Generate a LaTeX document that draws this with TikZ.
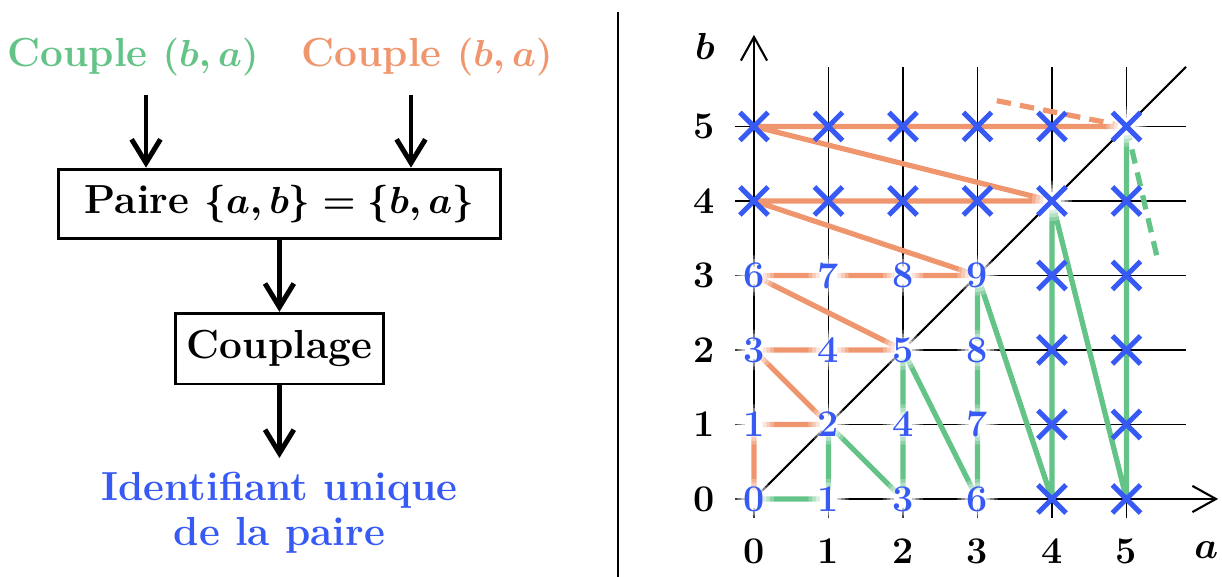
\documentclass[tikz,border=0pt]{standalone}
\usepackage{bm}
\usetikzlibrary{arrows.meta,shapes.misc}
\definecolor{cgreen}{RGB}{100,195,135}
\definecolor{corange}{RGB}{240,150,110}
\definecolor{cblue}{RGB}{55,90,245}
\newcommand\flowfont{\fontsize{15.5}{19}\selectfont\bfseries\boldmath}
\newcommand\axisfont{\fontsize{15.5}{18}\selectfont}
\pgfdeclarelayer{bg}
\pgfdeclarelayer{halo}
\pgfsetlayers{bg,halo,main}
\tikzset{
  flowbox/.style={draw, line width=1.1pt, font=\flowfont, inner sep=0pt},
  flowarrow/.style={line width=1.9pt, -{Straight Barb[length=9pt,width=11pt]}},
  axisline/.style={line width=0.8pt, -{Straight Barb[length=9pt,width=10pt]}},
  gridline/.style={line width=0.6pt},
  oline/.style={corange, line width=2pt, line join=round},
  gline/.style={cgreen, line width=2pt, line join=round},
  dashline/.style={dash pattern=on 5.5pt off 3.5pt},
  lab/.style={text=cblue, font=\Large\bfseries, inner sep=0pt},
  xmark/.style={cross out, draw=cblue, line width=1.9pt, minimum size=0.31cm, inner sep=0pt},
  ticklab/.style={font=\Large\bfseries, inner sep=0pt},
}
\begin{document}
\begin{tikzpicture}
\useasboundingbox (-10.121,-1.047) rectangle (6.282,6.698);

% ---------- left: flow ----------
\node[text=cgreen, font=\flowfont] (cg) at (-8.336,5.933) {Couple $(b,a)$};
\node[text=corange, font=\flowfont] (co) at (-4.389,5.933) {Couple $(b,a)$};
\node[flowbox, minimum width=5.93cm, minimum height=0.93cm] (paire) at (-6.37,3.963) {Paire $\{a,b\}=\{b,a\}$};
\node[flowbox, minimum width=2.796cm, minimum height=0.949cm] (coupl) at (-6.37,2.018) {Couplage};
\node[text=cblue, font=\flowfont, align=center, anchor=north, inner sep=5pt] (ident) at (-6.37,0.55) {Identifiant unique\\[-1.5pt]de la paire};

\coordinate (s1) at (-8.161,5.423);
\coordinate (s2) at (-4.604,5.423);
\draw[flowarrow] (s1) -- (s1 |- paire.north);
\draw[flowarrow] (s2) -- (s2 |- paire.north);
\draw[flowarrow] (paire.south) -- (coupl.north);
\draw[flowarrow] (coupl.south) -- (ident.north);

% divider
\coordinate (d1) at (-1.826,6.537);
\coordinate (d2) at (-1.826,-1.047);
\draw[line width=1.1pt] (d1) -- (d2);

% ---------- right: grid ----------
\foreach \a/\b/\t in {0/0/0,1/0/1,2/0/3,3/0/6,0/1/1,1/1/2,2/1/4,3/1/7,0/2/3,1/2/4,2/2/5,3/2/8,0/3/6,1/3/7,2/3/8,3/3/9}
  \node[lab] (p\a\b) at (\a,\b) {\t};
\foreach \a in {0,...,5} \foreach \b in {4,5}
  \node[xmark] (p\a\b) at (\a,\b) {};
\foreach \a in {4,5} \foreach \b in {0,...,3}
  \node[xmark] (p\a\b) at (\a,\b) {};

\foreach \a in {0,...,5} \node[ticklab] (tx\a) at (\a,-0.70) {\a};
\foreach \b in {0,...,5} \node[ticklab] (ty\b) at (-0.67,\b) {\b};
\node[font=\axisfont, inner sep=0pt] (la) at (6.07,-0.685) {$\bm{a}$};
\node[font=\axisfont, inner sep=0pt] (lb) at (-0.66,6.08) {$\bm{b}$};

\coordinate (xa0) at (-0.25,0);
\coordinate (xa1) at (6.23,0);
\coordinate (ya0) at (0,-0.25);
\coordinate (ya1) at (0,6.23);
\coordinate (dg) at (5.8,5.8);
\coordinate (oe) at (3.24,5.35);
\coordinate (ge) at (5.41,3.25);

\begin{pgfonlayer}{bg}
  \draw[gridline] (-0.25,-0.25) grid (5.8,5.8);
  \draw[axisline] (xa0) -- (xa1);
  \draw[axisline] (ya0) -- (ya1);
  \draw[line width=0.8pt] (p00.center) -- (dg);
  \draw[oline] (p00.center) -- (p01.center) -- (p11.center) -- (p02.center) -- (p22.center)
     -- (p03.center) -- (p33.center) -- (p04.center) -- (p44.center) -- (p05.center) -- (p55.center);
  \draw[gline] (p00.center) -- (p10.center) -- (p11.center) -- (p20.center) -- (p22.center)
     -- (p30.center) -- (p33.center) -- (p40.center) -- (p44.center) -- (p50.center) -- (p55.center);
  \draw[oline, dashline] (p55.center) -- (oe);
  \draw[gline, dashline] (p55.center) -- (ge);
\end{pgfonlayer}

\begin{pgfonlayer}{halo}
  \foreach \n in {p00,p10,p20,p30,p01,p11,p21,p31,p02,p12,p22,p32,p03,p13,p23,p33,p44,p55} {
    \foreach \r/\o in {0.27/0.25,0.22/0.35,0.17/0.5,0.12/1} {
      \fill[white, opacity=\o] (\n.center) circle (\r);
    }
  }
\end{pgfonlayer}
\end{tikzpicture}
\end{document}
